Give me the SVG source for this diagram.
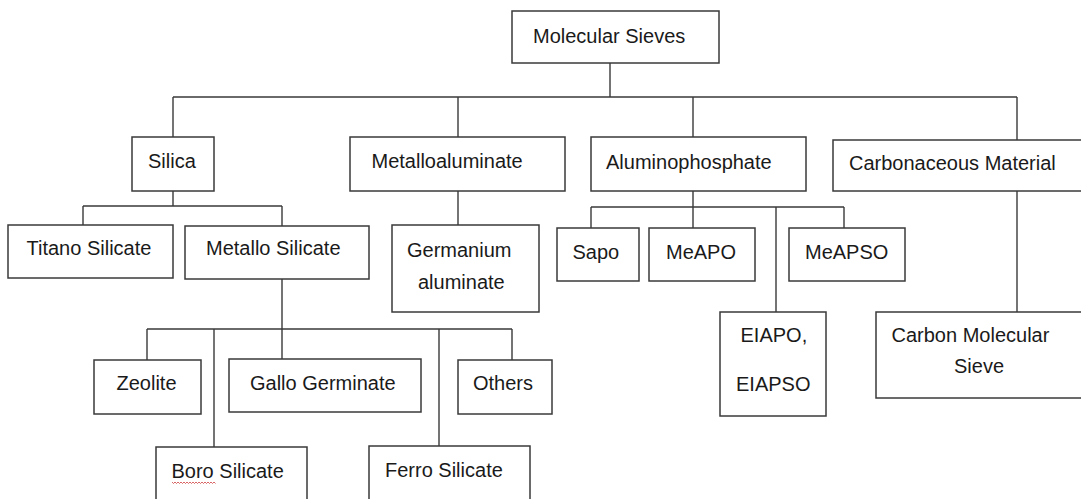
<svg xmlns="http://www.w3.org/2000/svg" width="1081" height="499" viewBox="0 0 1081 499">
<style>
.box{fill:#fff;stroke:#3a3a3a;stroke-width:1.5}
.t{font-family:"Liberation Sans",Arial,sans-serif;font-size:20px;fill:#1a1a1a}
.c{fill:none;stroke:#3a3a3a;stroke-width:1.4}
</style>
<rect width="1081" height="499" fill="#fff"/>
<g id="connectors">
<path class="c" d="M610,63V97M173,97H1017M173,97V137M458,97V137M693,97V137M1017,97V140"/>
<path class="c" d="M173,191V206M83,206H282M83,206V225M282,206V226"/>
<path class="c" d="M282,279V359M147,329H512M147,329V360M214,329V447M439,329V446M512,329V360"/>
<path class="c" d="M458,191V225"/>
<path class="c" d="M693,191V228M591,207H844M591,207V228M844,207V228M776,207V312"/>
<path class="c" d="M1017,191V312"/>
</g>
<g id="molecular-sieves"><rect class="box" x="512" y="11" width="207" height="52"/><text class="t" x="533" y="42.5">Molecular Sieves</text></g>
<g id="silica"><rect class="box" x="132" y="137" width="82" height="54"/><text class="t" x="148" y="168">Silica</text></g>
<g id="metalloaluminate"><rect class="box" x="350" y="137" width="215" height="54"/><text class="t" x="371.5" y="168">Metalloaluminate</text></g>
<g id="aluminophosphate"><rect class="box" x="591" y="137" width="215" height="54"/><text class="t" x="606" y="169">Aluminophosphate</text></g>
<g id="carbonaceous"><rect class="box" x="833" y="140" width="260" height="51"/><text class="t" x="849" y="170">Carbonaceous Material</text></g>
<g id="titano-silicate"><rect class="box" x="8" y="225" width="165" height="53"/><text class="t" x="26.5" y="255">Titano Silicate</text></g>
<g id="metallo-silicate"><rect class="box" x="185" y="226" width="184" height="53"/><text class="t" x="206" y="255">Metallo Silicate</text></g>
<g id="germanium-aluminate"><rect class="box" x="392" y="225" width="147" height="87"/><text class="t" x="407" y="256.5">Germanium</text><text class="t" x="418" y="289">aluminate</text></g>
<g id="sapo"><rect class="box" x="557" y="228" width="82" height="53"/><text class="t" x="572.5" y="259">Sapo</text></g>
<g id="meapo"><rect class="box" x="649" y="228" width="106" height="53"/><text class="t" x="666" y="259">MeAPO</text></g>
<g id="meapso"><rect class="box" x="789" y="228" width="116" height="53"/><text class="t" x="805" y="259">MeAPSO</text></g>
<g id="eiapo"><rect class="box" x="720" y="312" width="106" height="104"/><text class="t" x="740.5" y="341.5">EIAPO,</text><text class="t" x="736" y="391">EIAPSO</text></g>
<g id="carbon-molecular-sieve"><rect class="box" x="876" y="312" width="220" height="86"/><text class="t" x="891.5" y="341.5">Carbon Molecular</text><text class="t" x="954" y="373">Sieve</text></g>
<g id="zeolite"><rect class="box" x="94" y="360" width="107" height="54"/><text class="t" x="116.5" y="390">Zeolite</text></g>
<g id="gallo-germinate"><rect class="box" x="229" y="359" width="192" height="53"/><text class="t" x="250" y="390">Gallo Germinate</text></g>
<g id="others"><rect class="box" x="458" y="360" width="94" height="54"/><text class="t" x="473" y="390">Others</text></g>
<g id="boro-silicate"><rect class="box" x="156" y="447" width="151" height="70"/><text class="t" x="171.5" y="478">Boro Silicate</text><path d="M172,482l1.5,1.5l1.5,-1.5l1.5,1.5l1.5,-1.5l1.5,1.5l1.5,-1.5l1.5,1.5l1.5,-1.5l1.5,1.5l1.5,-1.5l1.5,1.5l1.5,-1.5l1.5,1.5l1.5,-1.5l1.5,1.5l1.5,-1.5l1.5,1.5l1.5,-1.5l1.5,1.5l1.5,-1.5l1.5,1.5l1.5,-1.5l1.5,1.5l1.5,-1.5l1.5,1.5l1.5,-1.5l1.5,1.5l1.5,-1.5l1.5,1.5" fill="none" stroke="#d04040" stroke-width="0.8"/></g>
<g id="ferro-silicate"><rect class="box" x="369" y="446" width="161" height="70"/><text class="t" x="385" y="476.5">Ferro Silicate</text></g>
</svg>
